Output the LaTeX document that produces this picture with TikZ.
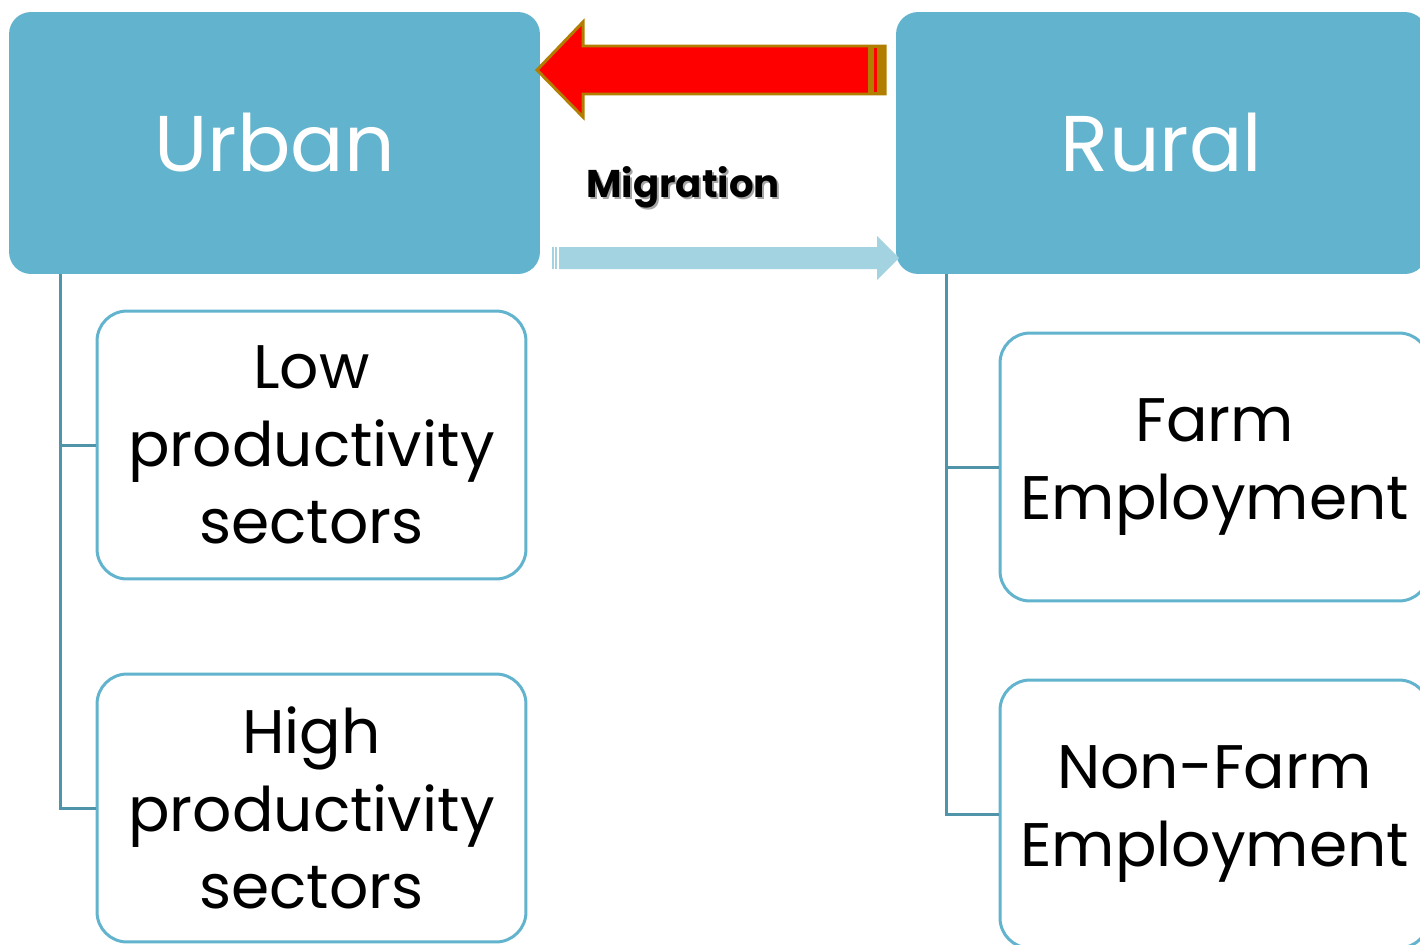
\documentclass[tikz,border=0pt]{standalone}
\usepackage{fontspec}
\setmainfont{Poppins}
\usetikzlibrary{positioning}
\definecolor{headblue}{RGB}{98,179,205}
\definecolor{treeblue}{RGB}{79,148,168}
\definecolor{paleblue}{RGB}{163,211,224}
\definecolor{gold}{RGB}{178,126,0}
\tikzset{head/.style={fill=headblue,draw=none,rounded corners=0.44cm,
    minimum width=10.62cm,minimum height=5.24cm,text=white,
    font=\fontsize{45}{54}\selectfont}}
\tikzset{leaf/.style={fill=white,draw=headblue,line width=1.7pt,rounded corners=0.6cm,
    minimum width=8.58cm,minimum height=5.36cm,align=center,
    font=\fontsize{35}{44}\selectfont}}
\tikzset{tree/.style={draw=treeblue,line width=1.7pt}}

\begin{document}
\begin{tikzpicture}[x=0.02cm,y=-0.02cm]
                \useasboundingbox (0,0) rectangle (1420,944);
                \clip (0,0) rectangle (1420,944);
                
                % Heads
                \node[head] (urban) at (274.5,143) {Urban};
                \node[head] (rural) at (1161.5,143) {Rural};
                
                % Urban sectors
                \node[leaf] (low) at (311.5,445) {Low\\productivity\\sectors};
                \node[leaf] (high) at (311.5,808) {High\\productivity\\sectors};
                \draw[tree] ([xshift=1.04cm]urban.south west) |- (low.west);
                \draw[tree] ([xshift=1.04cm]urban.south west) |- (high.west);
                
                % Rural employment
                \node[leaf] (farm) at (1214.5,467) {Farm\\Employment};
                \node[leaf] (nonfarm) at (1214.5,814) {Non-Farm\\Employment};
                \draw[tree] ([xshift=1.02cm]rural.south west) |- (farm.west);
                \draw[tree] ([xshift=1.02cm]rural.south west) |- (nonfarm.west);
                
                % Red arrow
                \filldraw[fill=red,draw=gold,line width=1.7pt,line join=miter]
                    (537,70) -- (583,22) -- (583,46) -- (885,46) -- (885,94) -- (583,94) -- (583,117) -- cycle;
                \fill[gold] (868,46) rectangle (886,94);
                \fill[red] (874,48) rectangle (877,92);
                
                % Pale arrow
                \fill[paleblue] (559,247) -- (877,247) -- (877,236) -- (899,258) -- (877,280) -- (877,269) -- (559,269) -- cycle;
                \foreach \s in {552,555} \fill[paleblue] (\s,247) rectangle (\s+2,269);
                
                % Label
                \node[text=black,opacity=0.35,font=\bfseries\fontsize{22}{26}\selectfont] at (685,189.5) {Migration};
                \node[font=\bfseries\fontsize{22}{26}\selectfont] (mig) at (683,187) {Migration};
            \end{tikzpicture}
\end{document}
